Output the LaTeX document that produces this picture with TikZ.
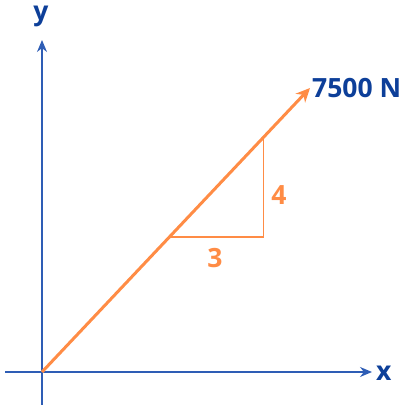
\documentclass[tikz,border=0pt]{standalone}
\usepackage{fontspec}
\setmainfont{Open Sans}
\usetikzlibrary{arrows.meta, calc}
\definecolor{axisblue}{HTML}{2E5DB5}
\definecolor{labelblue}{HTML}{0D3F99}
\definecolor{forceorange}{HTML}{FF8C45}
\tikzstyle{axis} = [draw=axisblue, line width=1.3pt, -{Stealth[length=12pt, width=10pt]}]
\tikzstyle{axislabel} = [text=labelblue, font=\fontsize{26.5}{26.5}\selectfont\bfseries, inner sep=0pt]
\tikzstyle{force} = [draw=forceorange, line width=3pt, -{Stealth[length=14pt, width=13pt]}]
\tikzstyle{slope} = [draw=forceorange, line width=1.5pt]
\tikzstyle{slopelabel} = [text=forceorange, font=\fontsize{26.5}{26.5}\selectfont\bfseries, inner sep=0pt]
\begin{document}
\begin{tikzpicture}[x=1pt, y=1pt]
      \useasboundingbox (0,0) rectangle (405,406);
      % Points
      \coordinate (origin) at (42,34);
      \coordinate (xstart) at (5,34);
      \coordinate (xend) at (372,34);
      \coordinate (ystart) at (42,1);
      \coordinate (yend) at (42,366);
      \coordinate (tip) at (310,318);
      \coordinate (run) at ($(origin)!0.475!(tip)$);
      \coordinate (rise) at ($(origin)!0.826!(tip)$);
      \coordinate (corner) at (rise |- run);
      % Labels
      \node (xlabel) [axislabel, anchor=west] at (376,33) {x};
      \node (ylabel) [axislabel] at (41,390) {y};
      \node (forcelabel) [axislabel, anchor=west] at (312,318) {7500 N};
      \node (runlabel) [slopelabel] at (215,148) {3};
      \node (riselabel) [slopelabel] at (279,211) {4};
      % Arrows
      \draw [axis] (xstart) -- (xend);
      \draw [axis] (ystart) -- (yend);
      \draw [slope] (run) -- (corner) -- (rise);
      \draw [force] (origin) -- (tip);
    \end{tikzpicture}
\end{document}
